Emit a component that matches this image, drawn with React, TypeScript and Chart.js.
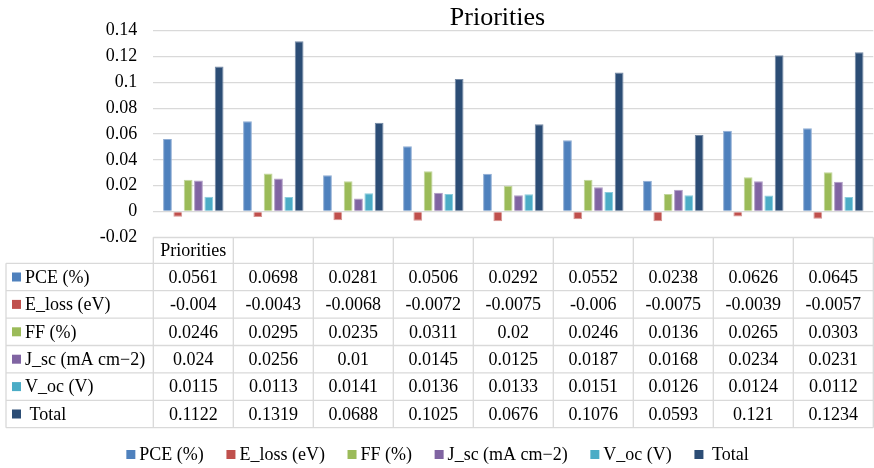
import React, { useEffect, useRef } from "react";
import { Chart, registerables } from "chart.js";

Chart.register(...registerables);

// Categories along the x axis (only the first one carries a caption)
const categories = ["Priorities", "", "", "", "", "", "", "", ""];

// Series values per category
const pce = [0.0561, 0.0698, 0.0281, 0.0506, 0.0292, 0.0552, 0.0238, 0.0626, 0.0645];
const eLoss = [-0.004, -0.0043, -0.0068, -0.0072, -0.0075, -0.006, -0.0075, -0.0039, -0.0057];
const ff = [0.0246, 0.0295, 0.0235, 0.0311, 0.02, 0.0246, 0.0136, 0.0265, 0.0303];
const jsc = [0.024, 0.0256, 0.01, 0.0145, 0.0125, 0.0187, 0.0168, 0.0234, 0.0231];
const voc = [0.0115, 0.0113, 0.0141, 0.0136, 0.0133, 0.0151, 0.0126, 0.0124, 0.0112];
const total = [0.1122, 0.1319, 0.0688, 0.1025, 0.0676, 0.1076, 0.0593, 0.121, 0.1234];

const seriesNames = ["PCE (%)", "E_loss (eV)", "FF (%)", "J_sc (mA cm\u22122)", "V_oc (V)", " Total"];
const seriesValues = [pce, eLoss, ff, jsc, voc, total];

// Y axis ticks and their printed labels
const yTicks = [-0.02, 0, 0.02, 0.04, 0.06, 0.08, 0.1, 0.12, 0.14];
const yTickLabels = ["-0.02", "0", "0.02", "0.04", "0.06", "0.08", "0.1", "0.12", "0.14"];

const chartTitle = "Priorities";

const fills = ["#4F81BD", "#C0504D", "#9BBB59", "#8064A2", "#4BACC6", "#2C4D75"];
const edges = ["#8EACD3", "#D79491", "#C1D69B", "#AE9CC4", "#8ACCDC", "#7489A5"];

const FONT = "'Liberation Serif', 'Times New Roman', serif";
const GRID = "#D9D9D9";

const tablePlugin = {
  id: "dataTable",
  afterDraw(chart: any) {
    const { ctx, chartArea } = chart;
    const xs = chart.scales.x;
    const left = chartArea.left;
    const right = chartArea.right;
    const n = categories.length;
    const colW = (right - left) / n;
    const headerTop = chartArea.bottom;
    const headerH = 26;
    const rowH = 27.4;
    const headerBottom = headerTop + headerH;
    const rowsBottom = headerBottom + rowH * seriesNames.length;
    const labelLeft = 6;

    ctx.save();
    ctx.strokeStyle = GRID;
    ctx.lineWidth = 1.3;

    // horizontal rules
    ctx.beginPath();
    ctx.moveTo(left, headerTop);
    ctx.lineTo(right, headerTop);
    for (let i = 0; i <= seriesNames.length; i++) {
      const y = headerBottom + i * rowH;
      ctx.moveTo(labelLeft, y);
      ctx.lineTo(right, y);
    }
    // vertical rules
    for (let k = 0; k <= n; k++) {
      const x = left + k * colW;
      ctx.moveTo(x, headerTop);
      ctx.lineTo(x, rowsBottom);
    }
    ctx.moveTo(labelLeft, headerBottom);
    ctx.lineTo(labelLeft, rowsBottom);
    ctx.stroke();

    ctx.fillStyle = "#000";
    ctx.font = `18px ${FONT}`;
    ctx.textBaseline = "middle";
    ctx.textAlign = "center";

    // header captions
    categories.forEach((c, i) => {
      ctx.fillText(c, xs.getPixelForValue(i), headerTop + headerH / 2 + 1);
    });

    // rows
    seriesNames.forEach((name, r) => {
      const cy = headerBottom + r * rowH + rowH / 2;
      ctx.fillStyle = fills[r];
      ctx.fillRect(12, cy - 4.5, 9, 9);
      ctx.fillStyle = "#000";
      ctx.textAlign = "left";
      ctx.fillText(name, 25, cy + 1);
      ctx.textAlign = "center";
      seriesValues[r].forEach((v, i) => {
        ctx.fillText(String(v), xs.getPixelForValue(i), cy + 1);
      });
    });

    // title
    ctx.font = `26px ${FONT}`;
    ctx.textBaseline = "alphabetic";
    ctx.textAlign = "center";
    ctx.fillText(chartTitle, 497.5, 25);

    // legend
    ctx.font = `18px ${FONT}`;
    const sq = 9;
    const gapIn = 4;
    const gapOut = 22.6;
    const widths = seriesNames.map((s) => ctx.measureText(s).width);
    const totalW =
      widths.reduce((a, b) => a + b, 0) + seriesNames.length * (sq + gapIn) + (seriesNames.length - 1) * gapOut;
    let x = 437.5 - totalW / 2;
    const ly = 454.5;
    ctx.textAlign = "left";
    ctx.textBaseline = "middle";
    seriesNames.forEach((s, i) => {
      ctx.fillStyle = fills[i];
      ctx.fillRect(x, ly - sq / 2, sq, sq);
      x += sq + gapIn;
      ctx.fillStyle = "#000";
      ctx.fillText(s, x, ly + 1);
      x += widths[i] + gapOut;
    });

    ctx.restore();
  },
};

export default function App() {
  const canvasRef = useRef<HTMLCanvasElement | null>(null);

  useEffect(() => {
    if (!canvasRef.current) return;
    const chart = new Chart(canvasRef.current, {
      type: "bar",
      data: {
        labels: categories,
        datasets: seriesNames.map((name, i) => ({
          label: name,
          data: seriesValues[i],
          backgroundColor: fills[i],
          borderColor: edges[i],
          borderWidth: 1,
          categoryPercentage: 0.775,
          barPercentage: 0.85,
        })),
      },
      options: {
        responsive: false,
        animation: false,
        devicePixelRatio: 1,
        layout: { padding: { top: 30.7, bottom: 230.7, left: 0, right: 0.7 } },
        plugins: {
          legend: { display: false },
          title: { display: false },
          tooltip: { enabled: false },
        },
        scales: {
          x: { display: false },
          y: {
            min: -0.02,
            max: 0.14,
            border: { display: false },
            grid: { color: GRID, lineWidth: 1.3, drawTicks: false },
            afterBuildTicks: (scale: any) => {
              scale.ticks = yTicks.map((v) => ({ value: v }));
            },
            afterFit: (scale: any) => {
              scale.width = 153.3;
            },
            ticks: {
              padding: 16,
              color: "#000",
              font: { family: FONT, size: 18 },
              callback: (_v: any, idx: number) => yTickLabels[idx],
            },
          },
        },
      },
      plugins: [tablePlugin],
    });
    return () => chart.destroy();
  }, []);

  return (
    <div style={{ position: "fixed", left: 0, top: 0, width: 874, height: 468, background: "#fff" }}>
      <canvas ref={canvasRef} width={874} height={468} />
    </div>
  );
}
